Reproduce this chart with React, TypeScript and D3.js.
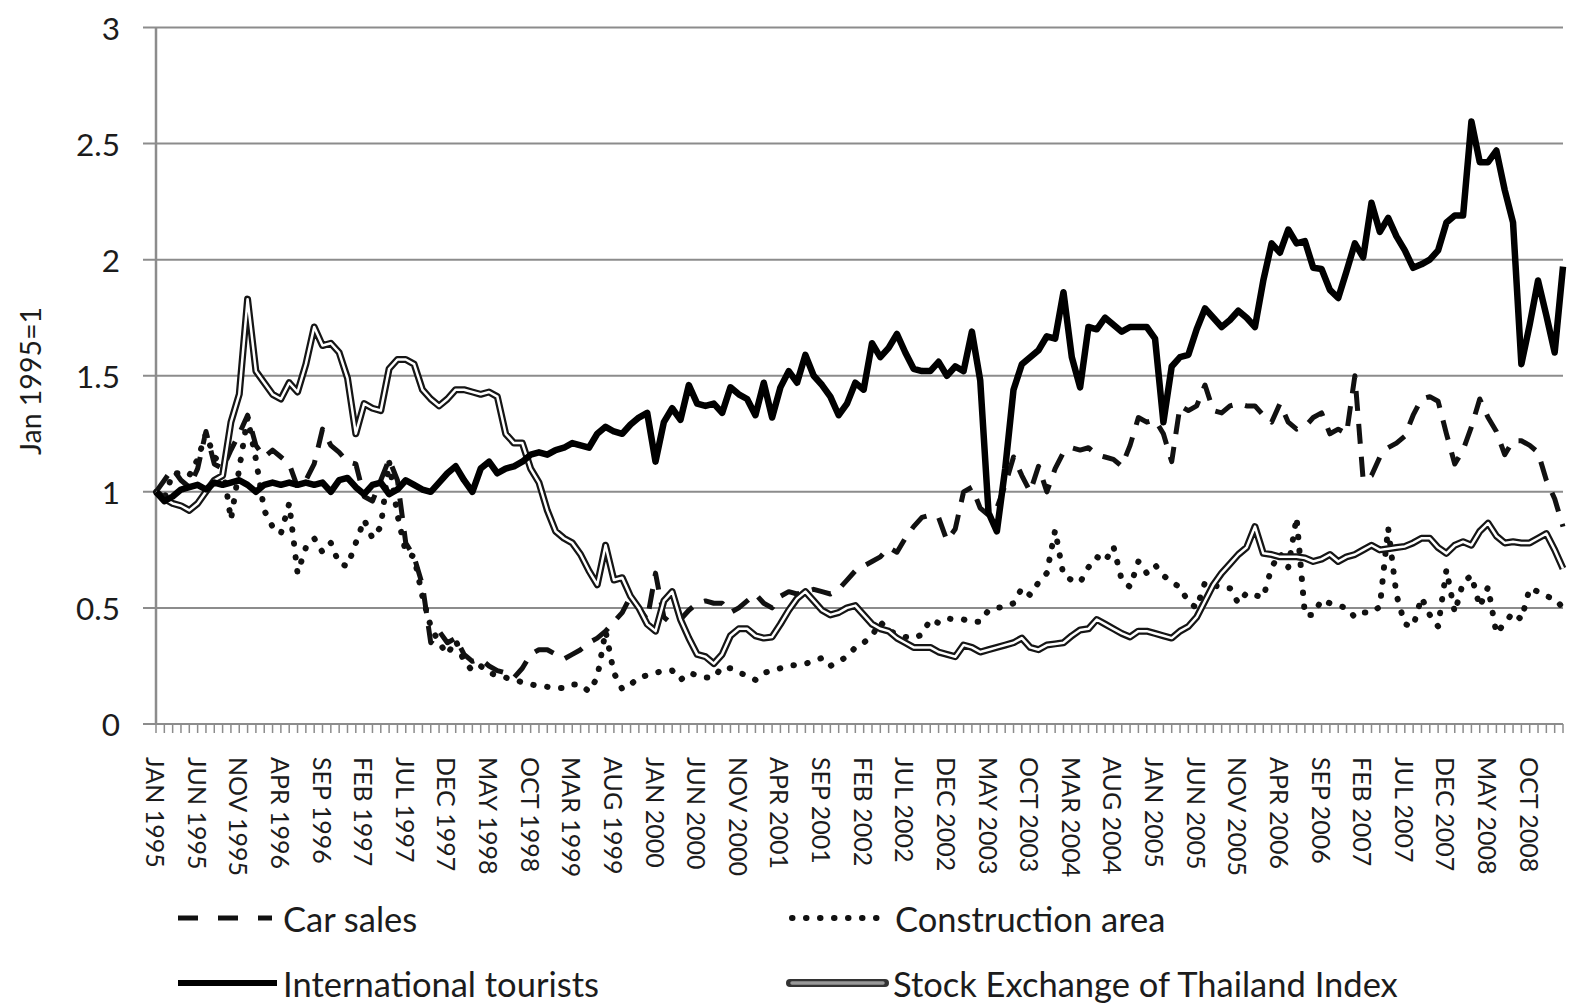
import React from 'react';
import * as d3 from 'd3';

const tickLabels = ['JAN 1995','JUN 1995','NOV 1995','APR 1996','SEP 1996','FEB 1997','JUL 1997','DEC 1997','MAY 1998','OCT 1998','MAR 1999','AUG 1999','JAN 2000','JUN 2000','NOV 2000','APR 2001','SEP 2001','FEB 2002','JUL 2002','DEC 2002','MAY 2003','OCT 2003','MAR 2004','AUG 2004','JAN 2005','JUN 2005','NOV 2005','APR 2006','SEP 2006','FEB 2007','JUL 2007','DEC 2007','MAY 2008','OCT 2008'];
const yTicks = [0, 0.5, 1, 1.5, 2, 2.5, 3];

const carSales = [1.00,1.05,1.10,1.05,1.02,1.10,1.26,1.12,1.10,1.18,
 1.25,1.33,1.20,1.15,1.18,1.15,1.12,1.02,1.05,1.12,
 1.27,1.20,1.17,1.13,1.12,0.98,0.96,1.05,1.14,1.05,
 0.78,0.72,0.60,0.35,0.40,0.35,0.37,0.30,0.27,0.28,
 0.25,0.23,0.22,0.20,0.24,0.30,0.32,0.32,0.30,0.28,
 0.30,0.32,0.35,0.37,0.40,0.44,0.48,0.55,0.50,0.45,
 0.65,0.46,0.43,0.45,0.49,0.52,0.53,0.52,0.52,0.48,
 0.50,0.53,0.56,0.52,0.50,0.55,0.57,0.56,0.57,0.58,
 0.57,0.56,0.58,0.62,0.66,0.68,0.70,0.72,0.76,0.74,
 0.80,0.85,0.89,0.90,0.89,0.79,0.84,1.00,1.02,0.93,
 0.90,0.93,1.03,1.15,1.07,1.00,1.11,1.00,1.10,1.17,
 1.19,1.18,1.19,1.16,1.15,1.14,1.11,1.20,1.32,1.30,
 1.31,1.25,1.13,1.37,1.35,1.37,1.46,1.35,1.34,1.37,
 1.38,1.37,1.37,1.33,1.30,1.38,1.30,1.27,1.28,1.32,
 1.34,1.25,1.27,1.25,1.50,1.05,1.07,1.15,1.19,1.21,
 1.24,1.33,1.40,1.41,1.39,1.25,1.12,1.18,1.28,1.40,
 1.32,1.26,1.16,1.22,1.22,1.20,1.17,1.05,0.97,0.85];

const construction = [1.00,0.97,1.08,1.08,1.07,1.14,1.25,1.15,1.12,0.88,
 1.10,1.32,1.14,0.92,0.85,0.82,0.95,0.65,0.76,0.80,
 0.74,0.78,0.69,0.68,0.78,0.88,0.80,0.85,1.13,0.90,
 0.74,0.72,0.55,0.42,0.35,0.30,0.36,0.27,0.23,0.25,
 0.22,0.21,0.20,0.19,0.18,0.17,0.165,0.16,0.155,0.155,
 0.17,0.17,0.14,0.20,0.40,0.22,0.15,0.17,0.20,0.21,
 0.22,0.23,0.23,0.19,0.22,0.21,0.20,0.20,0.245,0.24,
 0.22,0.21,0.19,0.22,0.23,0.24,0.25,0.255,0.26,0.27,
 0.285,0.25,0.27,0.29,0.33,0.35,0.38,0.44,0.40,0.39,
 0.375,0.37,0.385,0.45,0.435,0.455,0.45,0.45,0.44,0.44,
 0.49,0.50,0.505,0.52,0.585,0.555,0.61,0.65,0.835,0.64,
 0.62,0.61,0.675,0.72,0.70,0.765,0.62,0.59,0.70,0.65,
 0.685,0.64,0.61,0.59,0.525,0.50,0.61,0.60,0.585,0.585,
 0.52,0.565,0.555,0.545,0.675,0.735,0.675,0.89,0.47,0.47,
 0.535,0.52,0.51,0.50,0.46,0.48,0.48,0.505,0.845,0.555,
 0.43,0.42,0.545,0.47,0.42,0.665,0.48,0.61,0.64,0.505,
 0.59,0.39,0.435,0.48,0.45,0.585,0.57,0.55,0.54,0.50];

const tourists = [1.00,0.96,0.98,1.01,1.02,1.03,1.01,1.04,1.03,1.04,
 1.05,1.03,1.00,1.03,1.04,1.03,1.04,1.03,1.04,1.03,
 1.04,1.00,1.05,1.06,1.02,0.99,1.03,1.04,0.99,1.01,
 1.05,1.03,1.01,1.00,1.04,1.08,1.11,1.05,1.00,1.10,
 1.13,1.08,1.10,1.11,1.13,1.16,1.17,1.16,1.18,1.19,
 1.21,1.20,1.19,1.25,1.28,1.26,1.25,1.29,1.32,1.34,
 1.13,1.30,1.36,1.31,1.46,1.38,1.37,1.38,1.34,1.45,
 1.42,1.40,1.33,1.47,1.32,1.45,1.52,1.47,1.59,1.50,
 1.46,1.41,1.33,1.38,1.47,1.44,1.64,1.58,1.62,1.68,
 1.60,1.53,1.52,1.52,1.56,1.50,1.54,1.52,1.69,1.48,
 0.91,0.83,1.10,1.44,1.55,1.58,1.61,1.67,1.66,1.86,
 1.58,1.45,1.71,1.70,1.75,1.72,1.69,1.71,1.71,1.71,
 1.66,1.30,1.54,1.58,1.59,1.70,1.79,1.75,1.71,1.74,
 1.78,1.75,1.71,1.91,2.07,2.03,2.13,2.07,2.08,1.965,
 1.96,1.87,1.835,1.95,2.07,2.01,2.245,2.12,2.18,2.10,
 2.04,1.965,1.98,2.00,2.04,2.16,2.19,2.19,2.595,2.42,
 2.42,2.47,2.30,2.16,1.55,1.72,1.91,1.76,1.60,1.97];

const setIndex = [1.00,0.97,0.95,0.94,0.92,0.95,1.00,1.05,1.07,1.30,
 1.42,1.83,1.52,1.47,1.42,1.40,1.47,1.43,1.55,1.71,
 1.63,1.64,1.60,1.49,1.25,1.38,1.36,1.35,1.53,1.57,
 1.57,1.55,1.44,1.40,1.37,1.40,1.44,1.44,1.43,1.42,
 1.43,1.41,1.25,1.21,1.21,1.10,1.04,0.92,0.83,0.80,
 0.78,0.73,0.66,0.60,0.77,0.62,0.63,0.55,0.50,0.43,
 0.40,0.53,0.57,0.45,0.37,0.30,0.29,0.26,0.30,0.38,
 0.41,0.41,0.38,0.37,0.375,0.43,0.49,0.54,0.57,0.53,
 0.49,0.47,0.48,0.50,0.51,0.47,0.43,0.41,0.40,0.37,
 0.35,0.33,0.33,0.33,0.31,0.30,0.29,0.34,0.33,0.31,
 0.32,0.33,0.34,0.35,0.37,0.33,0.32,0.34,0.345,0.35,
 0.38,0.405,0.41,0.45,0.43,0.41,0.39,0.375,0.40,0.40,
 0.39,0.38,0.37,0.40,0.42,0.46,0.53,0.60,0.65,0.69,
 0.73,0.76,0.85,0.735,0.73,0.72,0.72,0.72,0.715,0.70,
 0.71,0.73,0.70,0.72,0.73,0.75,0.77,0.75,0.755,0.76,
 0.765,0.78,0.80,0.80,0.76,0.735,0.77,0.785,0.77,0.83,
 0.865,0.81,0.78,0.785,0.78,0.78,0.80,0.82,0.75,0.67];

const W = 1572, H = 1005;
const FONT = 'Lato, "Open Sans", sans-serif';
const GRID = '#8c8c8c';
const INK = '#1c1c1c';

export default function App() {
  const n = tourists.length;
  const x = d3.scaleLinear().domain([0, n - 1]).range([156, 1563]);
  const y = d3.scaleLinear().domain([0, 3]).range([724, 27.5]);
  const line = d3.line<number>().x((_, i) => x(i)).y(d => y(d));
  const idx = d3.range(n);

  return (
    <svg width={W} height={H} style={{ position: 'absolute', left: 0, top: 0, background: '#fff' }} fontFamily={FONT}>
      <rect width={W} height={H} fill="#fff" />
      {yTicks.map(t => (
        <g key={t}>
          <line x1={143} x2={1563} y1={y(t)} y2={y(t)} stroke={GRID} strokeWidth={2} />
          <text x={120} y={y(t)} textAnchor="end" dominantBaseline="central" fontSize={31.5} fill={INK}>{String(t)}</text>
        </g>
      ))}
      <line x1={156} x2={156} y1={y(3)} y2={y(0)} stroke={GRID} strokeWidth={2.5} />
      {idx.map(i => (
        <line key={i} x1={x(i)} x2={x(i)} y1={y(0)} y2={y(0) + 9} stroke={GRID} strokeWidth={1.5} />
      ))}
      {tickLabels.map((lab, k) => (
        <text key={lab} transform={`translate(${x(k * 5)},757) rotate(90)`} textAnchor="start" dominantBaseline="central" fontSize={25} fill={INK}>{lab}</text>
      ))}
      <text transform="translate(30,381) rotate(-90)" textAnchor="middle" dominantBaseline="central" fontSize={28.5} fill={INK}>Jan 1995=1</text>

      <path d={line(construction) || ''} fill="none" stroke="#111" strokeWidth={6} strokeDasharray="0.5 13.5" strokeLinecap="round" strokeLinejoin="round" />
      <path d={line(carSales) || ''} fill="none" stroke="#111" strokeWidth={5} strokeDasharray="20 13" strokeLinejoin="round" />
      <path d={line(setIndex) || ''} fill="none" stroke="#151515" strokeWidth={7} strokeLinejoin="round" />
      <path d={line(setIndex) || ''} fill="none" stroke="#fff" strokeWidth={2.5} strokeLinejoin="round" />
      <path d={line(tourists) || ''} fill="none" stroke="#000" strokeWidth={6.5} strokeLinejoin="round" />

      <g fontSize={34.5} fill={INK}>
        <line x1={178} x2={272} y1={918} y2={918} stroke="#111" strokeWidth={5} strokeDasharray="20 20" />
        <text x={283} y={918} dominantBaseline="central">Car sales</text>
        <line x1={792} x2={880} y1={918} y2={918} stroke="#111" strokeWidth={6} strokeDasharray="0.5 13.5" strokeLinecap="round" />
        <text x={895} y={918} dominantBaseline="central">Construction area</text>
        <line x1={178} x2={277} y1={983} y2={983} stroke="#000" strokeWidth={6} />
        <text x={283} y={983} dominantBaseline="central">International tourists</text>
        <line x1={790} x2={885} y1={983} y2={983} stroke="#333" strokeWidth={8} strokeLinecap="round" />
        <line x1={792} x2={883} y1={983} y2={983} stroke="#999" strokeWidth={3.5} strokeLinecap="round" />
        <text x={893} y={983} dominantBaseline="central">Stock Exchange of Thailand Index</text>
      </g>
    </svg>
  );
}
